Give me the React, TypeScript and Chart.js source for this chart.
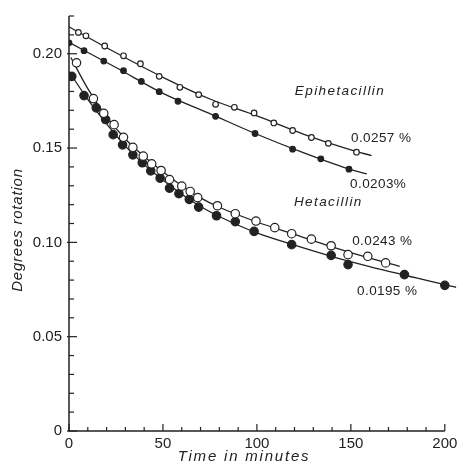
import React, { useEffect, useRef } from "react";
import { Chart, registerables } from "chart.js";

Chart.register(...registerables);

// Measured points (time in minutes, degrees rotation)
const epi257Time = [5, 9, 19, 29, 38, 48, 59, 69, 78, 88, 98.5, 109, 119, 129, 138, 153];
const epi257Rot = [0.2113, 0.2095, 0.2041, 0.1989, 0.1947, 0.188, 0.1822, 0.1783, 0.1732, 0.1716, 0.1686, 0.1633, 0.1593, 0.1556, 0.1525, 0.1478];

const epi203Time = [0, 8, 18.5, 29, 38.5, 48, 58, 78, 99, 119, 134, 149];
const epi203Rot = [0.2058, 0.2016, 0.1961, 0.191, 0.1853, 0.1799, 0.1748, 0.1668, 0.1577, 0.1494, 0.1443, 0.1388];

const het243Time = [4, 13, 18.5, 24, 29, 34, 39.5, 44, 49, 53.5, 60, 64.5, 68.5, 79, 88.5, 99.5, 109.5, 118.5, 129, 139.5, 148.5, 159, 168.5];
const het243Rot = [0.1952, 0.1762, 0.1684, 0.1624, 0.1557, 0.1504, 0.1457, 0.1416, 0.1381, 0.1333, 0.1298, 0.127, 0.1237, 0.1194, 0.1152, 0.1113, 0.1078, 0.1046, 0.1017, 0.0982, 0.0935, 0.0926, 0.0891];

const het195Time = [1.5, 8, 14.5, 19.5, 23.5, 28.5, 34, 39, 43.5, 48.5, 53.5, 58.5, 64, 69, 78.5, 88.5, 98.5, 118.5, 139.5, 148.5, 178.5, 200];
const het195Rot = [0.188, 0.1778, 0.1713, 0.1651, 0.1571, 0.1517, 0.1464, 0.1422, 0.1379, 0.134, 0.1287, 0.1258, 0.1228, 0.1187, 0.1141, 0.111, 0.1058, 0.0988, 0.0931, 0.0882, 0.0829, 0.0772];

// Fitted curves
const epi257CurveTime = [0, 25, 50, 75, 100, 125, 150, 161];
const epi257CurveRot = [0.2143, 0.2005, 0.1875, 0.176, 0.167, 0.1573, 0.149, 0.146];

const epi203CurveTime = [0, 25, 50, 75, 100, 125, 150, 158.5];
const epi203CurveRot = [0.206, 0.1927, 0.179, 0.1682, 0.1573, 0.1474, 0.1385, 0.1363];

const het243CurveTime = [1, 10, 20, 30, 40, 50, 60, 70, 80, 100, 120, 140, 160, 176];
const het243CurveRot = [0.198, 0.1815, 0.1665, 0.1548, 0.1455, 0.1374, 0.13, 0.1236, 0.1186, 0.1108, 0.1042, 0.0976, 0.0916, 0.0873];

const het195CurveTime = [0, 10, 20, 30, 40, 50, 60, 70, 80, 100, 120, 140, 160, 180, 200, 206];
const het195CurveRot = [0.1905, 0.1758, 0.1628, 0.151, 0.1413, 0.133, 0.1255, 0.119, 0.1137, 0.105, 0.0985, 0.0925, 0.0872, 0.0823, 0.0775, 0.0762];

// Axis ticks
const xMajorTicks = [0, 50, 100, 150, 200];
const yMajorTicks = [0, 0.05, 0.1, 0.15, 0.2];

// Text annotations (anchored in data coordinates)
const annotationTexts = ["Epihetacillin", "0.0257 %", "0.0203%", "Hetacillin", "0.0243 %", "0.0195 %"];
const annotationTime = [120.2, 150.1, 149.6, 119.7, 150.7, 153.3];
const annotationRot = [0.1799, 0.155, 0.1307, 0.1212, 0.1005, 0.0741];

const INK = "#222222";

const zip = (xs: number[], ys: number[]) => xs.map((x, i) => ({ x, y: ys[i] }));

const decorPlugin = {
  id: "decor",
  afterDraw(chart: any) {
    const ctx = chart.ctx;
    const xs = chart.scales.x;
    const ys = chart.scales.y;
    const x0 = xs.getPixelForValue(0);
    const y0 = ys.getPixelForValue(0);
    ctx.save();
    ctx.strokeStyle = INK;
    ctx.lineWidth = 1.5;
    ctx.beginPath();
    ctx.moveTo(x0, ys.getPixelForValue(0.22));
    ctx.lineTo(x0, y0);
    ctx.lineTo(xs.getPixelForValue(200), y0);
    ctx.stroke();
    ctx.lineWidth = 1.2;
    // y ticks (inward)
    for (let i = 0; i <= 22; i++) {
      const py = ys.getPixelForValue(i / 100);
      const major = i % 5 === 0;
      ctx.beginPath();
      ctx.moveTo(x0 - (major ? 2 : 0), py);
      ctx.lineTo(x0 + (major ? 8 : 5), py);
      ctx.stroke();
    }
    for (let i = 0; i <= 20; i++) {
      const px = xs.getPixelForValue(i * 10);
      const major = i % 5 === 0;
      ctx.beginPath();
      ctx.moveTo(px, y0);
      ctx.lineTo(px, y0 - (major ? 7 : 4));
      ctx.stroke();
    }
    // annotations
    ctx.fillStyle = INK;
    ctx.textBaseline = "middle";
    ctx.textAlign = "left";
    annotationTexts.forEach((t, i) => {
      const isName = /[A-Za-z]/.test(t);
      ctx.font = isName ? "italic 13.5px 'Liberation Sans'" : "13.5px 'Liberation Sans'";
      (ctx as any).letterSpacing = isName ? "1.4px" : "0.4px";
      ctx.fillText(t, xs.getPixelForValue(annotationTime[i]), ys.getPixelForValue(annotationRot[i]));
    });
    // axis titles
    ctx.font = "italic 15px 'Liberation Sans'";
    (ctx as any).letterSpacing = "1.8px";
    ctx.textAlign = "center";
    ctx.fillText("Time in minutes", 244, 457);
    (ctx as any).letterSpacing = "0.8px";
    ctx.translate(18, 230);
    ctx.rotate(-Math.PI / 2);
    ctx.fillText("Degrees rotation", 0, 0);
    ctx.restore();
  },
};

export default function App() {
  const ref = useRef<HTMLCanvasElement | null>(null);
  useEffect(() => {
    if (!ref.current) return;
    const lineDs = (xs: number[], ys: number[]) => ({
      type: "line" as const,
      data: zip(xs, ys),
      showLine: true,
      borderColor: INK,
      borderWidth: 1.3,
      pointRadius: 0,
      fill: false,
      cubicInterpolationMode: "monotone" as const,
      order: 2,
      clip: false as any,
    });
    const ptDs = (xs: number[], ys: number[], r: number, filled: boolean) => ({
      type: "scatter" as const,
      data: zip(xs, ys),
      pointRadius: r,
      pointStyle: "circle",
      backgroundColor: filled ? INK : "#ffffff",
      borderColor: INK,
      borderWidth: 1.2,
      showLine: false,
      order: 1,
    });
    const chart = new Chart(ref.current, {
      type: "scatter",
      data: {
        datasets: [
          lineDs(epi257CurveTime, epi257CurveRot),
          lineDs(epi203CurveTime, epi203CurveRot),
          lineDs(het243CurveTime, het243CurveRot),
          lineDs(het195CurveTime, het195CurveRot),
          ptDs(epi257Time, epi257Rot, 2.8, false),
          ptDs(epi203Time, epi203Rot, 2.8, true),
          ptDs(het243Time, het243Rot, 4.2, false),
          ptDs(het195Time, het195Rot, 4.2, true),
        ] as any,
      },
      options: {
        animation: false,
        responsive: false,
        events: [],
        layout: { padding: { top: 15, right: 0, left: 0, bottom: 0 } },
        plugins: { legend: { display: false }, tooltip: { enabled: false } },
        scales: {
          x: {
            type: "linear",
            min: 0,
            max: 206.8,
            grid: { display: false, drawTicks: false },
            border: { display: false },
            afterFit: (s: any) => {
              s.height = 34;
            },
            ticks: {
              stepSize: 10,
              includeBounds: false,
              padding: 4,
              color: INK,
              font: { family: "'Liberation Sans'", size: 15 },
              maxRotation: 0,
              autoSkip: false,
              callback: (v: any) => (xMajorTicks.includes(Number(v)) ? String(v) : ""),
            },
          },
          y: {
            type: "linear",
            min: 0,
            max: 0.22,
            grid: { display: false, drawTicks: false },
            border: { display: false },
            afterFit: (s: any) => {
              s.width = 69;
            },
            ticks: {
              stepSize: 0.01,
              padding: 7,
              color: INK,
              font: { family: "'Liberation Sans'", size: 15 },
              autoSkip: false,
              callback: (v: any) => {
                const n = Number(v);
                const hit = yMajorTicks.find((m) => Math.abs(m - n) < 1e-6);
                if (hit === undefined) return "";
                return hit === 0 ? "0" : hit.toFixed(2);
              },
            },
          },
        },
      },
      plugins: [decorPlugin],
    });
    return () => chart.destroy();
  }, []);
  return (
    <div style={{ position: "fixed", left: 0, top: 0, width: 463, height: 465, background: "#fff" }}>
      <canvas ref={ref} width={463} height={465} />
    </div>
  );
}
